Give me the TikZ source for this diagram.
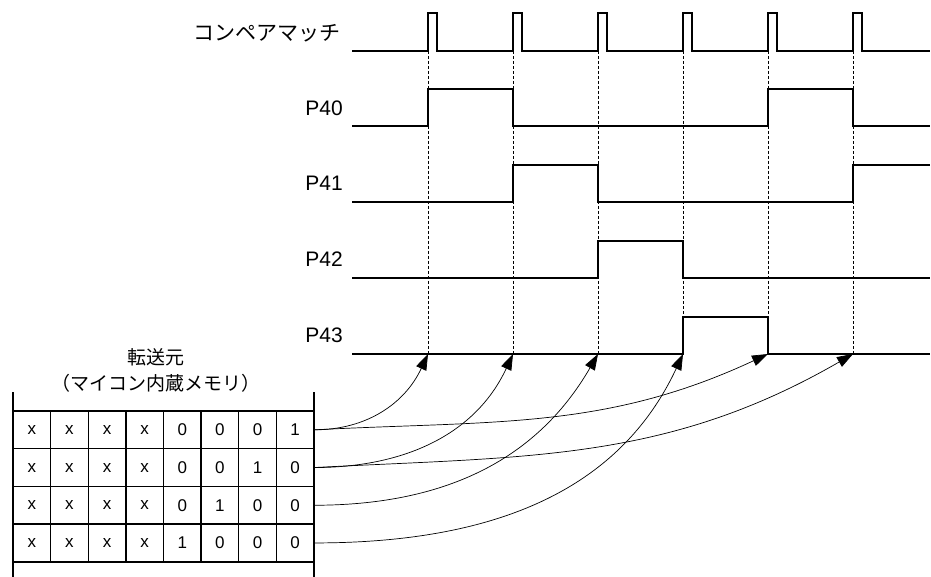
\documentclass[tikz,border=0pt]{standalone}
\usepackage{fontspec}
\setmainfont{Liberation Sans}
\newfontfamily\jp{Noto Sans CJK JP}
\usetikzlibrary{arrows.meta}

\begin{document}
\begin{tikzpicture}[x=1pt,y=-1pt,
            sig/.style={line width=1.8pt},
            guide/.style={line width=0.6pt,dash pattern=on 3pt off 2pt},
            grid/.style={line width=1.4pt},
            cell/.style={inner sep=0pt,font=\fontsize{17}{17}\selectfont},
            lbl/.style={anchor=east,inner sep=0pt,font=\fontsize{21}{21}\selectfont},
            xfer/.style={line width=0.7pt,-{Triangle[length=16pt,width=11pt]}}
          ]
\useasboundingbox (0,0) rectangle (931,577);

% signal names
\node[lbl] (cmp) at (341,33) {\jp コンペアマッチ};
\node[lbl] (p40) at (343,108) {P40};
\node[lbl] (p41) at (343,183) {P41};
\node[lbl] (p42) at (343,259) {P42};
\node[lbl] (p43) at (343,335) {P43};

% waveforms
\draw[sig] (352,51) \foreach \x in {428,513,598,683,768,853}{
  -- (\x,51) -- (\x,13) -- (\x+9,13) -- (\x+9,51)} -- (930,51);
\draw[sig] (352,126) -- (428,126) -- (428,89) -- (513,89) -- (513,126)
  -- (768,126) -- (768,89) -- (853,89) -- (853,126) -- (930,126);
\draw[sig] (352,202) -- (513,202) -- (513,165) -- (598,165) -- (598,202)
  -- (853,202) -- (853,165) -- (930,165);
\draw[sig] (352,278) -- (598,278) -- (598,241) -- (683,241) -- (683,278) -- (930,278);
\draw[sig] (352,354) -- (683,354) -- (683,317) -- (768,317) -- (768,354) -- (930,354);

% timing guides, ending on the P43 line
\foreach \x [count=\i] in {428,513,598,683,768,853}{
  \coordinate (e\i) at (\x,354);
  \draw[guide] (\x,51) -- (e\i);
}

% source memory
\node[inner sep=0pt,font=\fontsize{19}{19}\selectfont\jp] (src) at (156,357) {転送元};
\node[inner sep=0pt,font=\fontsize{19}{19}\selectfont\jp] (srcsub) at (156,383) {（マイコン内蔵メモリ）};
\draw[grid] (13,392) -- (13,577) (314,392) -- (314,577);
\foreach \y in {411,448.7,486.4,524.1,561.8}
  \draw[grid] (13,\y) -- (314,\y);
\foreach \c in {1,...,7}
  \draw[grid] (13+\c*37.625,411) -- (13+\c*37.625,561.8);
\foreach \row [count=\r] in {{x,x,x,x,0,0,0,1},{x,x,x,x,0,0,1,0},{x,x,x,x,0,1,0,0},{x,x,x,x,1,0,0,0}}{
  \foreach \v [count=\c] in \row
    \node[cell] (r\r c\c) at (13+\c*37.625-18.8,411+\r*37.7-18.85) {\v};
  \coordinate (m\r) at (314,411+\r*37.7-18.85);
}

% transfers
\draw[xfer] (m1) to[out=0,in=245] (e1);
\draw[xfer] (m1) to[out=3,in=205] (e5);
\draw[xfer] (m2) to[out=0,in=245] (e2);
\draw[xfer] (m2) to[out=3,in=210] (e6);
\draw[xfer] (m3) to[out=0,in=240] (e3);
\draw[xfer] (m4) to[out=0,in=245] (e4);
\end{tikzpicture}
\end{document}
